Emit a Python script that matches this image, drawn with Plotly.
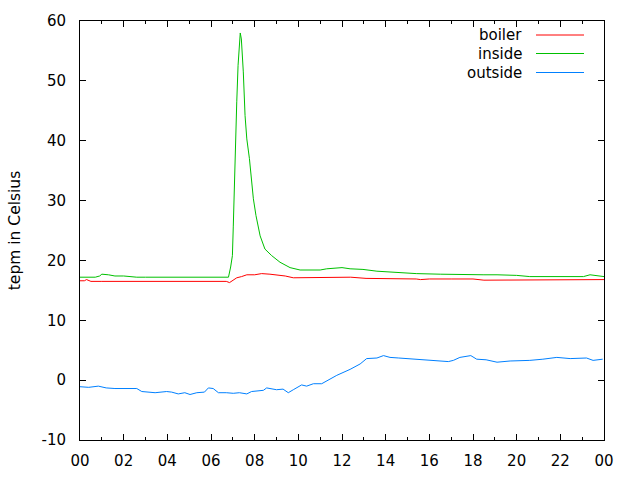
import plotly.graph_objects as go

# ---------------- data ----------------
boiler_t = [0.0, 0.2, 0.3, 0.5, 1.0, 2.0, 3.0, 4.0, 5.0, 6.0, 6.7, 6.85, 7.0, 7.18, 7.4, 7.64, 8.0, 8.32, 8.7, 9.0,
            9.4, 9.77, 10.5, 11.1, 11.3, 11.6, 12.0, 12.4, 13.1, 14.0, 15.0, 15.4, 15.6, 16.0, 17.0, 18.0, 18.5,
            19.5, 20.5, 21.5, 22.0, 22.8, 23.3, 23.6, 24.0]
boiler_v = [16.6, 16.6, 16.8, 16.5, 16.5, 16.5, 16.5, 16.5, 16.5, 16.5, 16.5, 16.3, 16.6, 17.1, 17.3, 17.6, 17.6, 17.8, 17.7,
            17.6, 17.4, 17.1, 17.1, 17.1, 17.2, 17.2, 17.2, 17.2, 17.0, 17.0, 16.9, 16.9, 16.8, 16.9, 16.9, 16.9, 16.7,
            16.7, 16.7, 16.7, 16.8, 16.8, 16.8, 16.7, 16.8]

inside_t = [0.0, 0.7, 0.9, 1.0, 1.3, 1.6, 2.0, 2.6, 3.0, 4.0, 5.0, 6.0, 6.8, 6.9, 6.98, 7.02, 7.07, 7.11, 7.18,
            7.24, 7.3, 7.34, 7.39, 7.43, 7.48, 7.56, 7.64, 7.76, 7.86, 7.94, 8.06, 8.25, 8.47, 8.78, 9.16, 9.62,
            10.08, 10.5, 11.0, 11.3, 12.0, 12.37, 12.96, 13.6, 14.5, 15.4, 16.5, 17.56, 18.5, 19.1, 20.0, 20.6,
            21.5, 22.5, 23.06, 23.36, 23.7, 24.0]
inside_v = [17.2, 17.2, 17.4, 17.7, 17.6, 17.4, 17.4, 17.2, 17.2, 17.2, 17.2, 17.2, 17.2, 18.9, 20.8, 25.6, 33.3, 40.9, 46.5,
            52.6, 55.9, 58.0, 57.0, 54.8, 51.5, 44.2, 40.3, 37.0, 33.1, 30.3, 27.5, 24.1, 21.9, 20.8, 19.7, 18.8,
            18.4, 18.4, 18.4, 18.6, 18.8, 18.6, 18.5, 18.2, 18.0, 17.8, 17.7, 17.6, 17.6, 17.6, 17.5, 17.3,
            17.3, 17.3, 17.3, 17.6, 17.5, 17.3]

outside_t = [0.0, 0.4, 0.84, 1.2, 1.6, 2.2, 2.6, 2.83, 3.44, 3.97, 4.2, 4.5, 4.8, 5.04, 5.35, 5.7, 5.88, 6.1, 6.34,
             6.7, 7.02, 7.3, 7.64, 7.86, 8.1, 8.4, 8.55, 9.0, 9.3, 9.54, 9.77, 10.15, 10.38, 10.69, 11.07, 11.3,
             11.76, 12.37, 12.83, 13.13, 13.6, 13.9, 14.2, 14.6, 15.04, 16.0, 16.87, 17.1, 17.4, 17.9, 18.17,
             18.6, 19.1, 19.7, 20.6, 21.2, 21.84, 22.45, 22.9, 23.2, 23.5, 23.94]
outside_v = [-1.1, -1.2, -1.0, -1.3, -1.4, -1.4, -1.4, -1.9, -2.1, -1.9, -2.0, -2.3, -2.1, -2.4, -2.1, -2.0, -1.3, -1.4, -2.1,
             -2.1, -2.2, -2.1, -2.3, -1.9, -1.8, -1.7, -1.3, -1.6, -1.5, -2.1, -1.6, -0.8, -1.0, -0.6, -0.6, -0.1,
             0.8, 1.8, 2.7, 3.6, 3.7, 4.1, 3.8, 3.7, 3.6, 3.3, 3.1, 3.3, 3.8, 4.1, 3.5,
             3.4, 3.0, 3.2, 3.3, 3.5, 3.8, 3.6, 3.6, 3.7, 3.3, 3.5]

series_names = ["boiler", "inside", "outside"]
series_colors = ["#ff0000", "#00c000", "#0080ff"]

x_tickvals = list(range(0, 25, 2))
x_ticktext = ["00", "02", "04", "06", "08", "10", "12", "14", "16", "18", "20", "22", "00"]
y_tickvals = list(range(-10, 61, 10))
y_ticktext = ["-10", "0", "10", "20", "30", "40", "50", "60"]

# ---------------- figure ----------------
FONT = "DejaVu Sans"
fig = go.Figure()
for name, color, t, v in zip(series_names, series_colors,
                             [boiler_t, inside_t, outside_t],
                             [boiler_v, inside_v, outside_v]):
    fig.add_trace(go.Scatter(x=t, y=v, mode="lines", name=name,
                             line=dict(color=color, width=1), showlegend=False))

# custom gnuplot-like legend (text right-aligned, sample line to the right)
L, R, T, B = 80, 604, 21, 440
def px(xp):
    return (xp - L) / (R - L)
def py(yp):
    return (B - yp) / (B - T)

legend_y = [35, 53.5, 72.5]
for name, color, yy in zip(series_names, series_colors, legend_y):
    fig.add_annotation(x=px(524), y=py(yy), xref="paper", yref="paper",
                       text=name, showarrow=False, xanchor="right", yanchor="middle",
                       font=dict(family=FONT, size=15, color="black"))
    fig.add_shape(type="line", xref="paper", yref="paper",
                  x0=px(536), x1=px(584), y0=py(yy), y1=py(yy),
                  line=dict(color=color, width=1))

axis_common = dict(showline=True, linecolor="black", linewidth=1, mirror="ticks",
                   ticks="inside", tickcolor="black", tickwidth=1, ticklen=6,
                   showgrid=False, zeroline=False, automargin=False,
                   tickfont=dict(family=FONT, size=15, color="black"))

fig.update_xaxes(range=[0, 24], tickvals=x_tickvals, ticktext=x_ticktext,
                 minor=dict(ticks="inside", dtick=1, tick0=0, ticklen=3, tickcolor="black", showgrid=False),
                 ticklabelstandoff=7, **axis_common)
fig.update_yaxes(range=[-10, 60], tickvals=y_tickvals, ticktext=y_ticktext,
                 title=dict(text="tepm in Celsius", font=dict(family=FONT, size=15.5, color="black"), standoff=17),
                 ticklabelstandoff=10, **axis_common)

fig.update_layout(width=640, height=480, margin=dict(l=80, r=36, t=21, b=40),
                  plot_bgcolor="white", paper_bgcolor="white",
                  font=dict(family=FONT, size=15, color="black"))

fig.write_html("out.html")
